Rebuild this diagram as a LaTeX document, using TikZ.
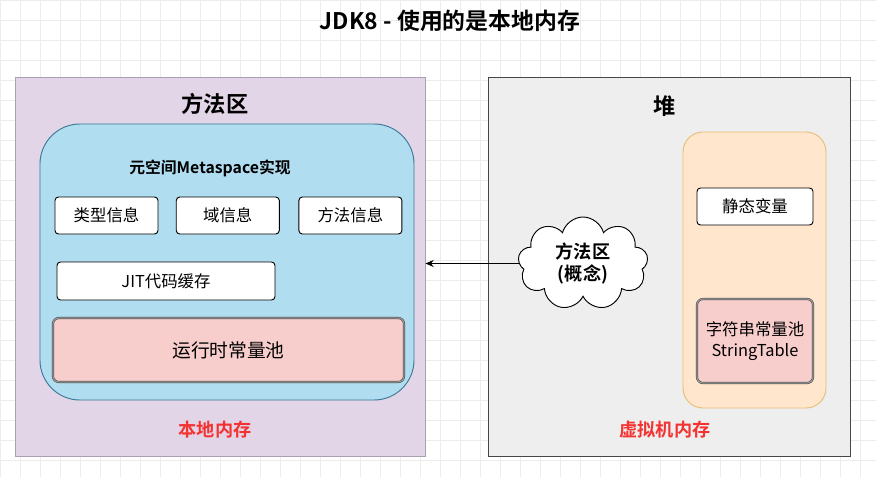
\documentclass[tikz,border=0pt]{standalone}
\usepackage{fontspec}
\setmainfont{Noto Sans CJK SC}[BoldFont={Noto Sans CJK SC Bold}]
\usetikzlibrary{positioning, arrows.meta, shapes.symbols}
\definecolor{GridGray}{RGB}{236,236,236}
\definecolor{NativeFill}{RGB}{225,213,231}
\definecolor{NativeLine}{RGB}{170,160,176}
\definecolor{MetaFill}{RGB}{177,221,240}
\definecolor{MetaLine}{RGB}{60,120,150}
\definecolor{HeapFill}{RGB}{238,238,238}
\definecolor{HeapLine}{RGB}{70,70,70}
\definecolor{StaticFill}{RGB}{255,230,204}
\definecolor{StaticLine}{RGB}{230,190,120}
\definecolor{PoolFill}{RGB}{248,206,204}
\definecolor{MemRed}{RGB}{245,50,50}

\begin{document}
\begin{tikzpicture}[
  x=0.03cm, y=-0.03cm, every node/.style={font=\fontsize{14}{16}\selectfont},
  region/.style={draw, line width=0.8pt, inner sep=0pt},
  itembox/.style={draw, thick, rounded corners=3pt, fill=white, inner sep=0pt, minimum width=3.09cm, minimum height=1.11cm},
  poolbox/.style={draw=black!75, double=black!40, double distance=1pt, rounded corners=5pt, fill=PoolFill, align=center, inner sep=0pt},
  heading/.style={font=\bfseries\fontsize{19}{22}\selectfont},
  memlabel/.style={text=MemRed, font=\bfseries\fontsize{15.5}{18}\selectfont},
  arrow/.style={-{Stealth[length=7pt, width=6pt]}, thick}
]
\useasboundingbox (0,0) rectangle (876,477);
\fill[white] (0,0) rectangle (876,477);
\draw[GridGray, step=0.6cm] (0,0) grid (876,477);

% Title
\node[font=\bfseries\fontsize{19.5}{22}\selectfont] (title) at (450,21) {JDK8 - 使用的是本地内存};

% Left: native memory, method area
\node[region, draw=NativeLine, fill=NativeFill, minimum width=12.3cm, minimum height=11.37cm] (native) at (220,266.5) {};
\node[heading] (mlabel) at (215,104) {方法区};
\node[region, draw=MetaLine, fill=MetaFill, rounded corners=1.2cm, minimum width=11.22cm, minimum height=8.28cm] (meta) at (227,262) {};
\node[font=\bfseries\fontsize{13.5}{16}\selectfont] (metalabel) at (210,168) {元空间Metaspace实现};
\node[itembox] (type) at (106.5,215.5) {类型信息};
\node[itembox, right=0.52cm of type] (field) {域信息};
\node[itembox, right=0.56cm of field] (method) {方法信息};
\node[itembox, minimum width=6.54cm, minimum height=1.14cm] (jit) at (166,281) {JIT代码缓存};
\node[poolbox, minimum width=10.53cm, minimum height=1.92cm, font=\fontsize{16}{19}\selectfont] (runpool) at (228.5,350) {运行时常量池};
\node[memlabel] (nlabel) at (215,430) {本地内存};

% Right: JVM memory, heap
\node[region, draw=HeapLine, fill=HeapFill, minimum width=10.86cm, minimum height=11.37cm] (heap) at (669,266.5) {};
\node[heading] (hlabel) at (665,106) {堆};
\node[region, draw=StaticLine, fill=StaticFill, rounded corners=0.6cm, minimum width=4.29cm, minimum height=8.28cm] (statics) at (754.5,270) {};
\node[itembox, minimum width=3.48cm] (var) at (755,206.5) {静态变量};
\node[poolbox, minimum width=3.48cm, minimum height=2.52cm, font=\fontsize{14}{18}\selectfont] (strpool) at (755,341) {字符串常量池\\StringTable};
\node[memlabel] (vlabel) at (665,430) {虚拟机内存};

% Concept cloud
\node[cloud, cloud puffs=9, cloud ignores aspect, draw, thick, fill=white, align=center, inner sep=0pt, minimum width=3.9cm, minimum height=2.79cm, font=\bfseries\fontsize{15.5}{19}\selectfont] (concept) at (583,263.5) {方法区\\(概念)};
\draw[arrow] (concept.west) -- (concept.west -| native.east);

\end{tikzpicture}
\end{document}
